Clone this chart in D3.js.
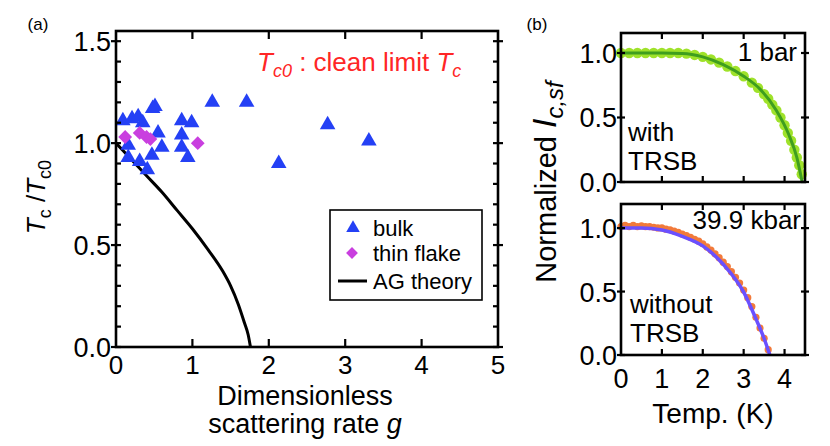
<!DOCTYPE html>
<html><head><meta charset="utf-8">
<script src="https://cdn.jsdelivr.net/npm/d3@7"></script>
<style>
body{margin:0;background:#fff}
svg{display:block}
text{font-family:"Liberation Sans",Arial,Helvetica,sans-serif;fill:#000}
</style>
</head><body>
<svg id="chart" width="830" height="446"></svg>
<script>
// ---------- Panel (a) data ----------
const bulkG = [0.09,0.21,0.29,0.35,0.48,0.51,0.55,0.86,0.99,0.86,0.16,0.60,0.86,0.16,0.31,0.47,0.94,0.41,1.26,1.71,2.77,3.31,2.13];
const bulkT = [1.11,1.12,1.13,1.10,1.17,1.18,1.05,1.11,1.10,1.04,0.99,0.98,0.98,0.93,0.91,0.94,0.93,0.87,1.20,1.20,1.09,1.01,0.90];
const flakeG = [0.12,0.31,0.40,0.45,1.07];
const flakeT = [1.03,1.05,1.03,1.02,1.00];
const agG = [0,0.2,0.4,0.6,0.8,1.0,1.2,1.4,1.5,1.6,1.68,1.73,1.76];
const agT = [1.0,0.92,0.84,0.76,0.67,0.58,0.48,0.37,0.30,0.21,0.12,0.06,0.0];
const xTicksA = [0,1,2,3,4,5];
const yTicksA = [0,0.5,1.0,1.5];
const yMinorA = [0.1,0.2,0.3,0.4,0.6,0.7,0.8,0.9,1.1,1.2,1.3,1.4];

// ---------- Panel (b) data ----------
const temp1 = [0,0.2,0.4,0.6,0.8,1.0,1.2,1.4,1.6,1.8,2.0,2.2,2.4,2.6,2.8,3.0,3.2,3.35,3.5,3.6,3.7,3.8,3.9,4.0,4.08,4.16,4.24,4.3,4.36,4.42];
const ic1   = [1.0,1.0,1.0,1.0,1.0,1.0,1.0,1.0,0.995,0.985,0.97,0.95,0.925,0.895,0.86,0.82,0.77,0.73,0.68,0.645,0.60,0.555,0.50,0.44,0.38,0.32,0.25,0.19,0.13,0.06];
const fit1T = [0,0.5,1.0,1.5,2.0,2.5,3.0,3.4,3.8,4.1,4.3,4.43];
const fit1V = [1.0,1.0,1.0,0.997,0.97,0.91,0.82,0.72,0.555,0.37,0.19,0.0];
const temp2 = [0,0.1,0.2,0.3,0.4,0.5,0.6,0.7,0.8,0.9,1.0,1.1,1.2,1.3,1.4,1.5,1.6,1.7,1.8,1.9,2.0,2.1,2.2,2.3,2.4,2.5,2.6,2.7,2.8,2.9,3.0,3.1,3.2,3.3,3.4,3.5,3.6];
const ic2   = [1.0,1.01,1.0,1.01,1.0,1.005,1.0,1.0,0.995,0.99,0.99,0.98,0.975,0.965,0.955,0.94,0.93,0.915,0.9,0.885,0.865,0.84,0.815,0.785,0.755,0.72,0.685,0.645,0.60,0.555,0.50,0.44,0.37,0.285,0.20,0.12,0.03];
const fit2T = [0,0.5,1.0,1.5,2.0,2.5,3.0,3.3,3.5,3.64];
const fit2V = [1.0,1.0,0.985,0.935,0.86,0.715,0.495,0.285,0.13,0.0];
const xTicksB = [0,1,2,3,4];
const yTicksB = [0,0.5,1.0];

// ---------- Drawing ----------
const svg = d3.select("#chart");

// scales
const xA = d3.scaleLinear().domain([0,5]).range([116,498]);
const yA = d3.scaleLinear().domain([0,1.55]).range([347,31]);
const xB = d3.scaleLinear().domain([0,4.5]).range([621,805]);
const yB1 = d3.scaleLinear().domain([0,1.155]).range([182,33]);
const yB2 = d3.scaleLinear().domain([0,1.19]).range([355,204]);

function frame(x0,x1,y0,y1){
  svg.append("rect").attr("x",x0).attr("y",y1).attr("width",x1-x0).attr("height",y0-y1)
    .attr("fill","none").attr("stroke","#000").attr("stroke-width",2.6);
}
function yTicks(scale, vals, xl, xr, inLen, outLen){
  const g = svg.append("g").attr("stroke","#000").attr("stroke-width",2.2);
  vals.forEach(v=>{
    const y = scale(v);
    g.append("line").attr("x1",xl-outLen).attr("x2",xl+inLen).attr("y1",y).attr("y2",y);
    g.append("line").attr("x1",xr-inLen).attr("x2",xr+outLen).attr("y1",y).attr("y2",y);
  });
}
function xTicksIn(scale, vals, yb, yt, len){
  const g = svg.append("g").attr("stroke","#000").attr("stroke-width",2.2);
  vals.forEach(v=>{
    const x = scale(v);
    g.append("line").attr("x1",x).attr("x2",x).attr("y1",yb).attr("y2",yb-len);
    g.append("line").attr("x1",x).attr("x2",x).attr("y1",yt).attr("y2",yt+len);
  });
}

// ===== Panel (a) =====
svg.append("text").attr("x",38).attr("y",30).attr("text-anchor","middle")
  .style("font-size","17px").text("(a)");

// AG theory line
const agData = agG.map((g,i)=>[g,agT[i]]);
svg.append("path").datum(agData)
  .attr("d", d3.line().x(d=>xA(d[0])).y(d=>yA(d[1])).curve(d3.curveMonotoneX))
  .attr("fill","none").attr("stroke","#000").attr("stroke-width",3);

// bulk triangles
const triSym = d3.symbol().type(d3.symbolTriangle).size(105);
svg.append("g").selectAll("path").data(bulkG.map((g,i)=>[g,bulkT[i]])).join("path")
  .attr("d",triSym).attr("transform",d=>`translate(${xA(d[0])},${yA(d[1])})`)
  .attr("fill","#2440f5");
// thin flake diamonds
const diaSym = d3.symbol().type(d3.symbolSquare).size(95);
svg.append("g").selectAll("path").data(flakeG.map((g,i)=>[g,flakeT[i]])).join("path")
  .attr("d",diaSym).attr("transform",d=>`translate(${xA(d[0])},${yA(d[1])}) rotate(45)`)
  .attr("fill","#c93fdf");

frame(116,498,347,31);
yTicks(yA, yTicksA, 116, 498, 5, 5);
yTicks(yA, yMinorA, 116, 498, 5, 0);
xTicksIn(xA, xTicksA.slice(1,5), 347, 31, 8);

// tick labels
svg.append("g").selectAll("text").data(xTicksA).join("text")
  .attr("x",d=>xA(d)).attr("y",374).attr("text-anchor","middle")
  .style("font-size","26px").text(d=>d);
svg.append("g").selectAll("text").data(yTicksA).join("text")
  .attr("x",111).attr("y",d=>yA(d)+10).attr("text-anchor","end")
  .style("font-size","27px").text(d=>d3.format(".1f")(d));

// axis titles
svg.append("text").attr("x",305).attr("y",405).attr("text-anchor","middle")
  .style("font-size","27px").text("Dimensionless");
const xt = svg.append("text").attr("x",305).attr("y",433).attr("text-anchor","middle").style("font-size","27px");
xt.append("tspan").text("scattering rate ");
xt.append("tspan").style("font-style","italic").text("g");

const yt = svg.append("text").attr("transform","translate(45,197) rotate(-90)")
  .attr("text-anchor","middle").style("font-size","26px");
yt.append("tspan").style("font-style","italic").text("T");
yt.append("tspan").attr("dy",6).style("font-size","18px").text("c");
yt.append("tspan").attr("dy",-6).text(" /");
yt.append("tspan").style("font-style","italic").text("T");
yt.append("tspan").attr("dy",6).style("font-size","18px").text("c0");

// red annotation
const ann = svg.append("text").attr("x",257).attr("y",71).style("font-size","26px");
ann.append("tspan").style("font-style","italic").style("fill","#ff2626").text("T");
ann.append("tspan").attr("dy",6).style("font-style","italic").style("font-size","18px").style("fill","#ff2626").text("c0");
ann.append("tspan").attr("dy",-6).style("fill","#ff2626").text(" : clean limit ");
ann.append("tspan").style("font-style","italic").style("fill","#ff2626").text("T");
ann.append("tspan").attr("dy",6).style("font-style","italic").style("font-size","18px").style("fill","#ff2626").text("c");

// legend
svg.append("rect").attr("x",330).attr("y",210).attr("width",152).attr("height",90)
  .attr("fill","#fff").attr("stroke","#000").attr("stroke-width",1.6);
svg.append("path").attr("d",d3.symbol().type(d3.symbolTriangle).size(80))
  .attr("transform","translate(353,228)").attr("fill","#2440f5");
svg.append("path").attr("d",d3.symbol().type(d3.symbolSquare).size(70))
  .attr("transform","translate(352,253) rotate(45)").attr("fill","#c93fdf");
svg.append("line").attr("x1",338).attr("x2",367).attr("y1",281).attr("y2",281)
  .attr("stroke","#000").attr("stroke-width",3);
[["bulk",236],["thin flake",261],["AG theory",289]].forEach(([t,y])=>{
  svg.append("text").attr("x",373).attr("y",y).style("font-size","22px").text(t);
});

// ===== Panel (b) =====
svg.append("text").attr("x",537).attr("y",30).attr("text-anchor","middle")
  .style("font-size","17px").text("(b)");

// top: 1 bar
const pts1 = temp1.map((t,i)=>[t,ic1[i]]);
svg.append("g").selectAll("circle").data(pts1).join("circle")
  .attr("cx",d=>xB(d[0])).attr("cy",d=>yB1(d[1])).attr("r",5.2).attr("fill","#9fe22a");
svg.append("path").datum(fit1T.map((t,i)=>[t,fit1V[i]]))
  .attr("d", d3.line().x(d=>xB(d[0])).y(d=>yB1(d[1])).curve(d3.curveMonotoneX))
  .attr("fill","none").attr("stroke","#3f9e1e").attr("stroke-width",3);
frame(621,805,182,33);
yTicks(yB1, yTicksB, 621, 805, 4, 4);
xTicksIn(xB, xTicksB.slice(1), 182, 33, 6);
svg.append("g").selectAll("text").data(yTicksB).join("text")
  .attr("x",617).attr("y",d=>yB1(d)+10).attr("text-anchor","end")
  .style("font-size","27px").text(d=>d3.format(".1f")(d));
svg.append("text").attr("x",797).attr("y",61).attr("text-anchor","end").style("font-size","26px").text("1 bar");
svg.append("text").attr("x",628).attr("y",141).style("font-size","26px").text("with");
svg.append("text").attr("x",628).attr("y",170).style("font-size","26px").text("TRSB");

// bottom: 39.9 kbar
const pts2 = temp2.map((t,i)=>[t,ic2[i]]);
svg.append("g").selectAll("circle").data(pts2).join("circle")
  .attr("cx",d=>xB(d[0])).attr("cy",d=>yB2(d[1])-1.5).attr("r",3.6).attr("fill","#f27a3a");
svg.append("path").datum(fit2T.map((t,i)=>[t,fit2V[i]]))
  .attr("d", d3.line().x(d=>xB(d[0])).y(d=>yB2(d[1])).curve(d3.curveMonotoneX))
  .attr("fill","none").attr("stroke","#6a50ff").attr("stroke-width",3.5);
frame(621,805,355,204);
yTicks(yB2, yTicksB, 621, 805, 4, 4);
xTicksIn(xB, xTicksB.slice(1), 355, 204, 6);
svg.append("g").selectAll("text").data(yTicksB).join("text")
  .attr("x",617).attr("y",d=>yB2(d)+10).attr("text-anchor","end")
  .style("font-size","27px").text(d=>d3.format(".1f")(d));
svg.append("g").selectAll("text").data(xTicksB).join("text")
  .attr("x",d=>xB(d)).attr("y",388).attr("text-anchor","middle")
  .style("font-size","27px").text(d=>d);
svg.append("text").attr("x",801).attr("y",229).attr("text-anchor","end").style("font-size","26px").text("39.9 kbar");
svg.append("text").attr("x",630).attr("y",313).style("font-size","26px").text("without");
svg.append("text").attr("x",630).attr("y",342).style("font-size","26px").text("TRSB");

svg.append("text").attr("x",713).attr("y",423).attr("text-anchor","middle")
  .style("font-size","28px").text("Temp. (K)");

const yb = svg.append("text").attr("transform","translate(556,182) rotate(-90)")
  .attr("text-anchor","middle").style("font-size","29px");
yb.append("tspan").text("Normalized ");
yb.append("tspan").style("font-style","italic").style("font-size","34px").text("I");
yb.append("tspan").attr("dy",7).style("font-style","italic").style("font-size","24px").text("c,sf");
</script>
</body></html>
